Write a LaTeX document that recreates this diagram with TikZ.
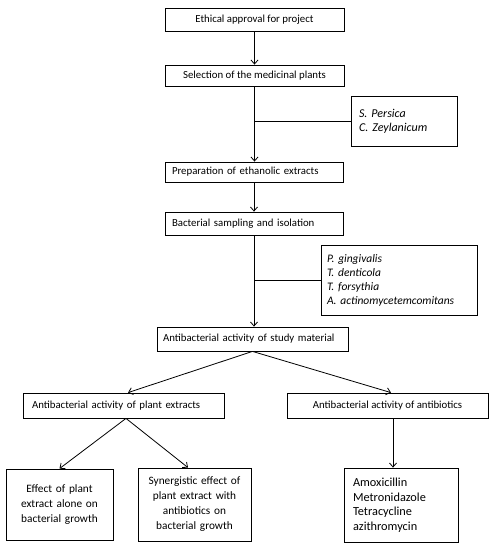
\documentclass[tikz,border=0pt]{standalone}
\usepackage{fontspec}
\setmainfont{Carlito}
\usetikzlibrary{arrows.meta}
\begin{document}
\begin{tikzpicture}[x=1pt,y=-1pt,
  box/.style={draw=black,line width=0.8pt,inner sep=0pt,rectangle,font=\fontsize{10.8}{14}\selectfont},
  arr/.style={line width=0.8pt,-{Straight Barb[length=4pt,width=7pt,line width=0.8pt]}},
  ln/.style={line width=0.8pt}]
\useasboundingbox (0,0) rectangle (495,550);
% main column
\node[box,minimum width=179pt,minimum height=23pt] (b1) at (254.5,19.5) {Ethical approval for project};
\node[box,minimum width=179pt,minimum height=21pt] (b2) at (254.5,75.5) {Selection of the medicinal plants};
\node[box,minimum width=178pt,minimum height=20pt,text width=164pt,align=left] (b3) at (254,172) {Preparation of ethanolic extracts};
\node[box,minimum width=178pt,minimum height=23pt,text width=164pt,align=left] (b4) at (254,223.5) {Bacterial sampling and isolation};
\node[box,minimum width=191pt,minimum height=24pt,text width=179pt,align=left] (b5) at (252.5,339) {Antibacterial activity of study material};
% side lists
\node[box,minimum width=106pt,minimum height=50pt,text width=90pt,align=left,font=\fontsize{12}{14}\selectfont\itshape] (sp) at (404,121) {S. Persica\\C. Zeylanicum};
\node[box,minimum width=156pt,minimum height=70pt,text width=144pt,align=left,font=\fontsize{11.5}{14}\selectfont\itshape] (bac) at (399,280) {P. gingivalis\\T. denticola\\T. forsythia\\A. actinomycetemcomitans};
% second level
\node[box,minimum width=201pt,minimum height=25pt,text width=183pt,align=left] (b6) at (123.5,405.5) {Antibacterial activity of plant extracts};
\node[box,minimum width=201pt,minimum height=25pt] (b7) at (387.5,405.5) {Antibacterial activity of antibiotics};
% bottom
\node[box,minimum width=107pt,minimum height=71pt,text width=105pt,align=center,font=\fontsize{11.3}{15}\selectfont] (b8) at (59.5,504.5) {Effect of plant\\extract alone on\\bacterial growth};
\node[box,minimum width=113pt,minimum height=73pt,text width=111pt,align=center,font=\fontsize{11.3}{15}\selectfont] (b9) at (194.5,504.5) {Synergistic effect of\\plant extract with\\antibiotics on\\bacterial growth};
\node[box,minimum width=114pt,minimum height=74pt,text width=96pt,align=left,font=\fontsize{12.3}{14.5}\selectfont] (b10) at (401,505) {Amoxicillin\\Metronidazole\\Tetracycline\\azithromycin};
% connectors
\draw[arr] (b1.south) -- (b2.north);
\draw[arr] (b2.south) -- (b2.south |- b3.north);
\draw[ln] (sp.west) -- (sp.west -| b2.south);
\draw[arr] (b3.south) -- (b3.south |- b4.north);
\draw[arr] (b4.south) -- (b4.south |- b5.north);
\draw[ln] (bac.west) -- (bac.west -| b4.south);
\draw[arr] (b5.south) -- ([xshift=4.5pt]b6.north);
\draw[arr] (b5.south) -- ([xshift=3.5pt]b7.north);
\draw[arr] ([xshift=2.5pt]b6.south) -- (b8.north);
\draw[arr] ([xshift=2.5pt]b6.south) -- ([xshift=-6.5pt]b9.north);
\draw[arr] ([xshift=5.5pt]b7.south) -- ([xshift=5.5pt]b7.south |- b10.north);
\end{tikzpicture}
\end{document}
